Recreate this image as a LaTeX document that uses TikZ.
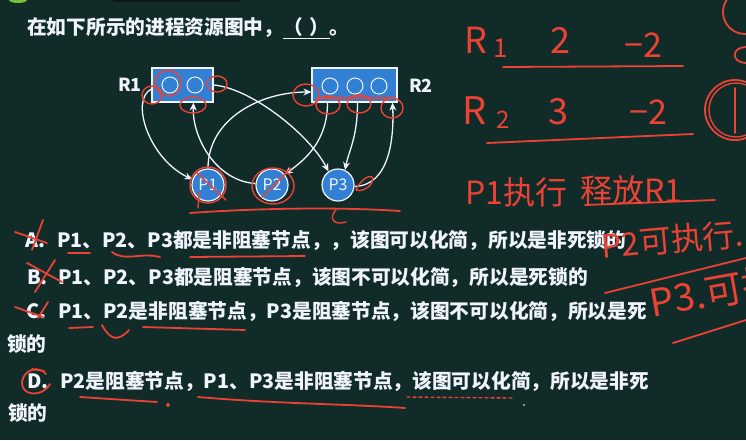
\documentclass[tikz,border=0pt]{standalone}
\usepackage{fontspec}
\setmainfont{Noto Sans CJK SC}
\usetikzlibrary{arrows.meta}
\definecolor{bgc}{RGB}{17,44,40}
\definecolor{boxblue}{RGB}{50,128,212}
\definecolor{txt}{RGB}{240,244,255}
\definecolor{pen}{RGB}{236,66,54}
\definecolor{leaf}{RGB}{120,190,60}
\begin{document}
\begin{tikzpicture}[x=1pt,y=-1pt,
  resbox/.style={draw=txt,line width=1.2pt,fill=boxblue,minimum height=34pt,inner sep=0pt},
  slot/.style={circle,draw=txt,line width=1pt,minimum size=16pt,inner sep=0pt},
  proc/.style={circle,draw=txt,line width=1.2pt,fill=boxblue,minimum size=32pt,inner sep=0pt,text=txt,font=\fontsize{16}{18}\selectfont},
  lab/.style={text=txt,inner sep=0pt,font=\bfseries\fontsize{18}{20}\selectfont},
  qt/.style={text=txt,inner sep=0pt,anchor=west,font=\bfseries\fontsize{19.7}{23}\selectfont},
  arc/.style={draw=txt,line width=1.3pt,-{Stealth[length=8pt,width=7pt]}},
  pen/.style={draw=pen,line width=1.8pt,line cap=round,line join=round},
  hand/.style={text=pen,inner sep=0pt}
]
\useasboundingbox (0,0) rectangle (746,440);
\fill[bgc] (0,0) rectangle (746,440);
\clip (0,0) rectangle (746,440);
\fill[leaf] (18,0) ellipse [x radius=9, y radius=3];
\fill[black!45!bgc] (113,0) rectangle (240,2);

% ---------- question text ----------
\node[qt] (title) at (27,28) {在如下所示的进程资源图中，\underline{（\hspace{7pt}）}。};
\node[qt] (la) at (25,240) {A.};
\node[qt] (ta) at (57,240) {P1、P2、P3都是非阻塞节点，，该图可以化简，所以是非死锁的};
\node[qt] (lb) at (27,277) {B.};
\node[qt] (tb) at (58,277) {P1、P2、P3都是阻塞节点，该图不可以化简，所以是死锁的};
\node[qt] (lc) at (26,311) {C.};
\node[qt] (tc) at (58,311) {P1、P2是非阻塞节点，P3是阻塞节点，该图不可以化简，所以是死};
\node[qt] (tc2) at (7,344) {锁的};
\node[qt] (ld) at (27,381) {D.};
\node[qt] (td) at (60,381) {P2是阻塞节点，P1、P3是非阻塞节点，该图可以化简，所以是非死};
\node[qt] (td2) at (8,413) {锁的};

% ---------- resource graph ----------
\node[resbox,minimum width=61pt] (r1) at (182.5,85) {};
\node[resbox,minimum width=85pt] (r2) at (354.5,85) {};
\node[slot] (r1a) at (170,85) {};
\node[slot] (r1b) at (195,85) {};
\node[slot] (r2a) at (330,86) {};
\node[slot] (r2b) at (355,86) {};
\node[slot] (r2c) at (379,86) {};
\node[lab] (l1) at (130,85) {R1};
\node[lab] (l2) at (421,86) {R2};
\node[proc] (p1) at (208,185) {P1};
\node[proc] (p2) at (272,185) {P2};
\node[proc] (p3) at (338,185) {P3};

\draw[arc] ([yshift=-4pt]r1.west) .. controls +(-22,11) and +(-43,-20) .. (p1.160);
\draw[arc] (p2.175) .. controls +(-41,-3) and +(-1.5,33) .. ([xshift=11pt]r1.south);
\draw[arc] (r1.east) .. controls +(37,3) and +(-19,-37) .. (p3.125);
\draw[arc] (p1.north) .. controls +(0,-49) and +(-52,0) .. ([yshift=-7pt]r2.west);
\draw[arc] ([xshift=-27pt]r2.south) .. controls +(0,38) and +(21,-15) .. (p2.40);
\draw[arc] ([xshift=3pt]r2.south) .. controls +(0,35) and +(4,-20) .. (p3.65);
\draw[arc] (p3.-5) .. controls +(36,-1) and +(1.5,33) .. ([xshift=38pt]r2.south);

% ---------- red pen marks on the graph ----------
\draw[pen,line width=1.4pt] (168,83) circle [radius=13];
\draw[pen,line width=1.4pt] (152,95) ellipse [x radius=10, y radius=9];
\draw[pen,line width=1.4pt] (217,84) ellipse [x radius=10, y radius=8];
\draw[pen,line width=1.4pt] (193,105) ellipse [x radius=13, y radius=8];
\draw[pen,line width=1.4pt] (306,95) ellipse [x radius=13, y radius=11];
\draw[pen,line width=1.4pt] (328,105) ellipse [x radius=12, y radius=9];
\draw[pen,line width=1.4pt] (359,104) ellipse [x radius=12, y radius=9];
\draw[pen,line width=1.4pt] (392,108) ellipse [x radius=11, y radius=10];
\draw[pen,line width=1.4pt] (317,98) -- (395,98);
\draw[pen,line width=1.4pt] (208,185) circle [radius=18];
\draw[pen,line width=1.4pt] (196,172) -- (226,200) (199,192) -- (198,208);
\draw[pen,line width=1.4pt] (273,186) ellipse [x radius=21, y radius=18];
\draw[pen,line width=1.4pt] (262,197) -- (291,168);
\draw[pen,line width=1.4pt] (356,190) .. controls (362,176) and (376,172) .. (372,182) .. controls (369,189) and (360,192) .. (356,190);
\draw[pen] (190,213) .. controls (260,208) and (340,207) .. (400,211);
\draw[pen,line width=1.4pt] (336,210) .. controls (328,218) and (334,226) .. (346,222);

% ---------- red pen marks on the options ----------
\draw[pen] (15,232) -- (47,243) (43,220) -- (32,250);
\draw[pen] (27,263) -- (62,282) (55,260) -- (35,292);
\draw[pen] (15,307) -- (43,317) (48,302) -- (38,318);
\draw[pen] (46,374) .. controls (40,366) and (24,368) .. (22,382) .. controls (21,396) and (42,398) .. (50,384);
\draw[pen] (32,369) -- (44,371);
\draw[pen] (68,253) -- (90,253);
\draw[pen] (112,252) .. controls (125,262) and (140,252) .. (160,257);
\draw[pen] (190,257) -- (305,256);
\draw[pen] (69,328) -- (93,327);
\draw[pen] (102,325) .. controls (110,340) and (118,342) .. (129,330);
\draw[pen] (143,327) -- (245,330);
\draw[pen] (80,397) -- (157,402);
\draw[pen] (198,397) .. controls (280,404) and (350,404) .. (405,408);
\draw[pen,dashed,line width=1.4pt] (407,397) -- (512,398);
\fill[pen] (168,405) circle [radius=1.2];
\fill[txt!70!bgc] (524,405) circle [radius=1.2];

% ---------- red handwriting on the right ----------
\node[hand,font=\fontsize{36}{36}\selectfont] (h1) at (476,40) {R};
\node[hand,font=\fontsize{26}{26}\selectfont] (h2) at (501,48) {1};
\node[hand,font=\fontsize{36}{36}\selectfont] (h3) at (560,40) {2};
\node[hand,font=\fontsize{34}{34}\selectfont] (h4) at (643,45) {−2};
\draw[pen] (503,67) -- (683,66);
\node[hand,font=\fontsize{38}{38}\selectfont] (h5) at (475,111) {R};
\node[hand,font=\fontsize{24}{24}\selectfont] (h6) at (503,120) {2};
\node[hand,font=\fontsize{36}{36}\selectfont] (h7) at (558,112) {3};
\node[hand,font=\fontsize{34}{34}\selectfont] (h8) at (648,112) {−2};
\draw[pen] (487,143) -- (693,134);
\draw[pen] (735,110) circle [radius=30];
\draw[pen,line width=1.4pt] (736,110) circle [radius=27];
\draw[pen] (735,88) -- (735,133);
\draw[pen] (745,12) circle [radius=22];
\draw[pen] (746,47) .. controls (732,47) and (730,62) .. (746,63);
\node[hand,anchor=west,font=\fontsize{32}{32}\selectfont] (h9) at (465,192) {P1执行};
\node[hand,anchor=west,font=\fontsize{32}{32}\selectfont] (h10) at (580,190) {释放R1};
\draw[pen] (585,205) -- (715,200);
\node[hand,anchor=west,rotate=5,font=\fontsize{32}{32}\selectfont] (h11) at (601,246) {P2可执行. 释放R2};
\draw[pen] (605,293) -- (746,258);
\node[hand,anchor=west,rotate=10,font=\fontsize{38}{38}\selectfont] (h12) at (650,303) {P3.可执行};
\draw[pen] (673,343) -- (746,320);
\end{tikzpicture}
\end{document}
